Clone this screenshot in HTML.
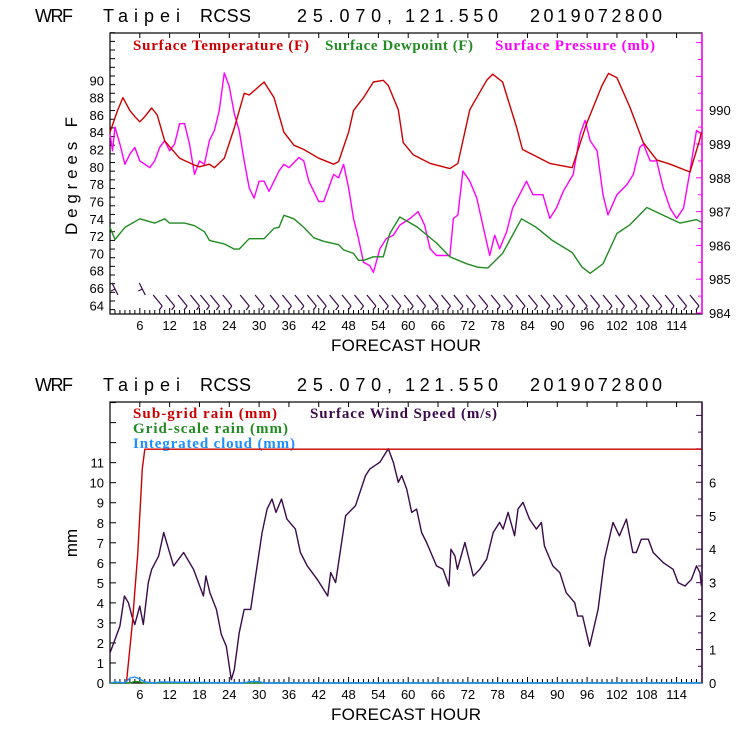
<!DOCTYPE html>
<html><head><meta charset="utf-8"><style>
html,body{margin:0;padding:0;background:#fff;}
svg{display:block;}
.t{font-family:"Liberation Sans",sans-serif;font-size:13px;fill:#000;}
.ttl{font-family:"Liberation Sans",sans-serif;font-size:18px;fill:#000;}
.ax{font-family:"Liberation Sans",sans-serif;font-size:17px;fill:#000;}
.lg{font-family:"Liberation Serif",serif;font-size:15px;font-weight:bold;}
</style></head><body>
<svg id="c" width="740" height="740" viewBox="0 0 740 740">
<g>
<text class="ttl" x="35" y="22" textLength="38">WRF</text>
<text class="ttl" x="103" y="22" textLength="77">Taipei</text>
<text class="ttl" x="200" y="22" textLength="51">RCSS</text>
<text class="ttl" x="297" y="22" textLength="95">25.070,</text>
<text class="ttl" x="405" y="22" textLength="93">121.550</text>
<text class="ttl" x="530" y="22" textLength="132">2019072800</text>
</g>
<g>
<text class="ttl" x="35" y="391" textLength="38">WRF</text>
<text class="ttl" x="103" y="391" textLength="77">Taipei</text>
<text class="ttl" x="200" y="391" textLength="51">RCSS</text>
<text class="ttl" x="297" y="391" textLength="95">25.070,</text>
<text class="ttl" x="405" y="391" textLength="93">121.550</text>
<text class="ttl" x="530" y="391" textLength="132">2019072800</text>
</g>
<text class="lg" x="133" y="50" fill="#cc0000" textLength="176">Surface Temperature (F)</text>
<text class="lg" x="325" y="50" fill="#228b22" textLength="148">Surface Dewpoint (F)</text>
<text class="lg" x="495" y="50" fill="#ff00ff" textLength="160">Surface Pressure (mb)</text>
<text class="lg" x="133" y="418" fill="#cc0000" textLength="144">Sub-grid rain (mm)</text>
<text class="lg" x="310" y="418" fill="#3a0a4a" textLength="187">Surface Wind Speed (m/s)</text>
<text class="lg" x="133" y="433" fill="#228b22" textLength="155">Grid-scale rain (mm)</text>
<text class="lg" x="133" y="448" fill="#1e90ff" textLength="162">Integrated cloud (mm)</text>
<text class="ax" x="77" y="176" transform="rotate(-90 77 176)" text-anchor="middle" textLength="118">Degrees F</text>
<text class="ax" x="77" y="543" transform="rotate(-90 77 543)" text-anchor="middle">mm</text>
<text class="ax" x="331" y="351" textLength="150">FORECAST HOUR</text>
<text class="ax" x="331" y="720" textLength="150">FORECAST HOUR</text>
</svg>
<script>
const hrs=[0,1,2,3,4,5,6,7,8,9,10,11,12,13,14,15,16,17,18,19,20,21,22,23,24,25,26,27,28,29,30,31,32,33,34,35,36,37,38,39,40,41,42,43,44,45,46,47,48,49,50,51];
const tempH=[0,1.5,2.6,4,5,6,7,8.4,9.5,11,14,17,18,20,21,23,25,27,28,31,33,35,37,39,42,45,46,48,49,51,53,55,56,58,59,61,64.4,68.4,70,72.4,75.8,77,79,81.8,83,85.8,88.5,93,95.9,99,100.3,102,104.6,107.3,110,112.7,116.7,118.7,119];
const tempV=[84,86.5,88,86.5,85.8,85.2,85.8,86.8,86,83,81,80.2,80,80.3,79.9,81,84.5,88.5,88.3,89.8,88,84,82.5,82,81,80.3,80.6,84,86.5,88,89.8,90,89.4,86.6,82.8,81.4,80.4,79.8,80.4,86.6,90,90.7,89.8,84.6,82,81.2,80.4,79.9,85,89.4,90.8,90.3,86.9,82.8,80.8,80.3,79.4,83.2,84];
const dewH=[0,1,3,6,9,11,12,15,17,19,20,23,25,26,28,31,33,34,35,37,39,41,43,46,47,49,50,51,53,55,56.3,58.3,61.7,65.7,68.4,71.8,74,76,79,82.8,85.8,89,93,95,96.6,99.2,102,104.6,108,111.3,114.7,118,119];
const dewV=[73,71.6,73,74,73.5,74,73.5,73.5,73.2,72.5,71.5,71.1,70.5,70.5,71.7,71.7,72.9,73,74.4,74,73,71.8,71.4,71,70.4,70,69.2,69.2,69.6,69.6,72.3,74.2,73.1,71.2,69.6,68.8,68.4,68.3,70,74,73,71.5,70.1,68.4,67.7,68.8,72.3,73.3,75.3,74.4,73.5,73.9,73.6];
const presH=[0,0.5,1,2,3,4,5,6,8,9,10,11,12,13,14,15,16,17,18,19,20,21,22,23,24,25,26,27,28,29,30,31,32,33,34,35,36,38,39,40,41,42,43,44,45,46,47,48,49,50,51,52.3,53,54.3,55.6,57,58.3,60.4,62,63.3,64.4,65.7,68.4,69.1,70,71,72.4,73.8,75,76.4,77.4,78.4,79.8,81,83.8,85.1,87.1,88.5,89.8,91.2,93.2,94.6,95.6,96.6,98,99.2,100.2,102,104,105.3,106.6,107.3,108.7,110,111.3,112.7,114,115.4,116.7,118,119];
const presV=[989.3,988.8,989.5,989.0,988.4,988.7,988.9,988.5,988.3,988.5,988.9,989.1,988.8,989.0,989.6,989.6,989.0,988.1,988.5,988.4,989.1,989.4,990.0,991.1,990.7,989.9,989.4,988.5,987.7,987.4,987.9,987.9,987.6,987.9,988.2,988.4,988.3,988.6,988.5,987.9,987.6,987.3,987.3,987.7,988.1,988.0,988.4,987.7,986.8,986.2,985.5,985.4,985.2,985.9,986.2,986.3,986.6,986.8,987.0,986.6,985.9,985.7,985.7,986.8,986.9,988.2,987.9,987.4,986.6,985.7,986.3,985.9,986.4,987.1,987.9,987.5,987.5,986.8,987.1,987.6,988.1,989.3,989.7,989.1,988.8,987.5,986.9,987.5,987.8,988.1,988.9,989.0,988.5,988.5,987.7,987.1,986.8,987.1,988.2,989.4,989.3];
const windH=[0,1,2,2.9,3.7,4.4,5,6,6.7,7.7,8.4,9.8,10.8,11.8,12.8,14.8,16.8,18.8,19.3,20.1,21.4,22.4,23.4,24.4,25,26,27,28.3,29.3,30.6,31.6,32.6,33.4,34.5,35.6,37.3,38.3,39.7,41.7,43.8,44.4,45.4,47.4,49.4,51.4,52.3,54.3,56,57,58,58.7,59.7,60.7,61.7,62.7,63.7,65.7,67,68.2,68.6,69.4,69.9,71.4,73.1,74.4,75.8,77.1,78.4,79.1,80.1,81.4,82.1,83.1,84.4,85.8,86.8,87.4,89.1,90.5,91.8,93.5,94.1,95.1,96.5,98.2,99.5,101.2,102.5,103.9,105.2,105.9,106.9,108.3,109.3,111.3,113.3,114.3,115.7,117,118,118.7,119];
const windV=[0.9,1.3,1.7,2.6,2.4,2.0,1.75,2.3,1.75,3.0,3.4,3.8,4.5,4.0,3.5,3.9,3.4,2.6,3.2,2.7,2.2,1.45,1.1,0.1,0.4,1.5,2.2,2.2,3.2,4.5,5.2,5.5,5.1,5.5,4.9,4.6,3.9,3.5,3.1,2.6,3.3,3.0,5.0,5.3,6.2,6.4,6.6,7.0,6.6,6.0,6.2,5.8,5.1,5.2,4.5,4.2,3.5,3.4,2.9,4.0,3.8,3.4,4.2,3.2,3.4,3.7,4.5,4.8,4.6,5.1,4.4,5.2,5.4,4.9,4.6,4.8,4.1,3.5,3.3,2.7,2.4,2.0,2.0,1.1,2.2,3.7,4.8,4.4,4.9,3.9,3.9,4.3,4.3,3.9,3.6,3.4,3.0,2.9,3.1,3.5,3.3,2.9];
const rainH=[0,3.3,4.5,5.6,6.5,7,119];
const rainV=[0,0,3,6.5,10.7,11.67,11.67];
const gridH=[0,4,5,6,7,119];
const gridV=[0,0,0.08,0.05,0,0];
const cloudH=[0,1,3,4,5,6,7,9,10,27,28,30,31,119];
const cloudV=[0,0.05,0,0.25,0.3,0.2,0.05,0,0.05,0,0.07,0.07,0,0];
const barbH=[1,6.5,9.5,12,14.5,17,19,21,23.5,27,30,33,35.5,38,40.5,42.5,45,47.5,50,52.5,55,57.5,60,62.5,65,67.5,70,72.5,75,77.5,80,82.5,85,87.5,90,92.5,95,97.5,100,102.5,105,107.5,110,112.5,115,117.5];
const xTicks=[6,12,18,24,30,36,42,48,54,60,66,72,78,84,90,96,102,108,114];
const tTicks=[64,66,68,70,72,74,76,78,80,82,84,86,88,90];
const pTicks=[984,985,986,987,988,989,990];
const mmTicks=[0,1,2,3,4,5,6,7,8,9,10,11];
const wTicks=[0,1,2,3,4,5,6];

const NS='http://www.w3.org/2000/svg', svg=document.getElementById('c');
const X0=110,X1=702,PXH=4.97;
const x=h=>X0+h*PXH;
const yT=v=>80.3+(90-v)*8.654;
const yP=v=>313-(v-984)*33.8;
const yMM=v=>683-v*20.03;
const yW=v=>683-v*33.45;
function mk(tag,attrs){const e=document.createElementNS(NS,tag);for(const k in attrs)e.setAttribute(k,attrs[k]);svg.appendChild(e);return e;}
function line(hs,vs,fy,col,name){
  const d=hs.map((h,i)=>(i?'L':'M')+x(h).toFixed(1)+' '+fy(vs[i]).toFixed(1)).join('');
  const p=mk('path',{d:d,fill:'none',stroke:col,'stroke-width':1.4,'stroke-linejoin':'round'});
  
  
}
function frame(top,bot,rightCol,name){
  const r=mk('rect',{x:X0,y:top,width:X1-X0,height:bot-top,fill:'none',stroke:'#000','stroke-width':1.2});
  
  
  const rl=mk('line',{x1:X1,y1:top,x2:X1,y2:bot,stroke:rightCol,'stroke-width':1.5});
  
  
  for(let h=1;h<119;h++){
    const len=(h%6===0)?6:4;
    const t=mk('line',{x1:x(h),y1:bot,x2:x(h),y2:bot-len,stroke:'#000'});
    
    
    if(h%6===0){const t2=mk('line',{x1:x(h),y1:top,x2:x(h),y2:top+5,stroke:'#000'});
    
    }
  }
  xTicks.forEach(h=>{const t=mk('text',{x:x(h),y:bot+16,'text-anchor':'middle',class:'t'});t.textContent=h;
    
    });
}
frame(33,314,'#ff00ff','top-plot-frame');
for(let v=63.5;v<=95.5;v+=1){const t=mk('line',{x1:X0,y1:yT(v),x2:X0+5,y2:yT(v),stroke:'#000'});
  
  }
tTicks.forEach(v=>{const t=mk('text',{x:104,y:yT(v)+5,'text-anchor':'end',class:'t'});t.textContent=v;
  
  });
for(let v=984;v<=992;v+=0.5){const t=mk('line',{x1:X1,y1:yP(v),x2:X1-(v%1===0?6:4),y2:yP(v),stroke:'#ff00ff'});
  
  }
pTicks.forEach(v=>{const t=mk('text',{x:709,y:yP(v)+5,class:'t'});t.textContent=v;
  
  });
line(presH,presV,yP,'#ff00ff','pressure-line');
line(tempH,tempV,yT,'#cc0000','temperature-line');
line(dewH,dewV,yT,'#228b22','dewpoint-line');
barbH.forEach((h,i)=>{const bx=x(h);const up=(i<2);
  const p=mk('path',{d:up?`M${bx-3} ${283}L${bx+3} ${295}M${bx} ${289}l-4 2`:`M${bx-4} ${295}L${bx+5} ${306}M${bx+5} ${306}l-3 4`,fill:'none',stroke:'#3a0a4a','stroke-width':1.2});
  
  });
frame(402,683,'#3a0a4a','bottom-plot-frame');
for(let v=0;v<=14;v+=1){const t=mk('line',{x1:X0,y1:yMM(v),x2:X0+6,y2:yMM(v),stroke:'#000'});
  
  }
mmTicks.forEach(v=>{const t=mk('text',{x:104,y:yMM(v)+5,'text-anchor':'end',class:'t'});t.textContent=v;
  
  });
for(let v=0;v<=8.4;v+=0.5){const t=mk('line',{x1:X1,y1:yW(v),x2:X1-(v%1===0?6:4),y2:yW(v),stroke:'#3a0a4a'});
  
  }
wTicks.forEach(v=>{const t=mk('text',{x:709,y:yW(v)+5,class:'t'});t.textContent=v;
  
  });
line(windH,windV,yW,'#3a0a4a','wind-speed-line');
line(rainH,rainV,yMM,'#cc0000','subgrid-rain-line');
line(gridH,gridV,yMM,'#228b22','grid-rain-line');
line(cloudH,cloudV,yMM,'#1e90ff','cloud-line');
</script>
</body></html>
